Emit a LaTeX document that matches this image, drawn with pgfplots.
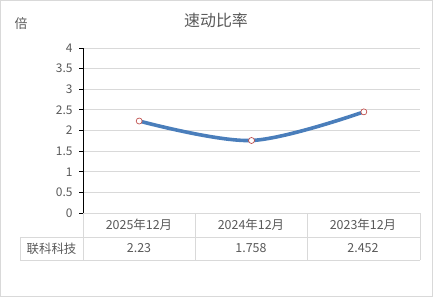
\documentclass[border=0pt]{standalone}
\usepackage{pgfplots}
\pgfplotsset{compat=1.18}
\usepackage{fontspec}
\setmainfont{Noto Sans CJK SC}
\definecolor{gridgray}{HTML}{D9D9D9}
\definecolor{txtgray}{HTML}{595959}
\definecolor{lineblue}{HTML}{4A7EBB}
\definecolor{mkred}{HTML}{C0504D}
\pgfplotstableread{
x y
0 2.23
1 1.758
2 2.452
}\datatable
\begin{document}
\begin{tikzpicture}[x=1bp,y=1bp]
\draw[gridgray, line width=1bp] (0.5,0.5) rectangle (432.5,296.5);
\node[txtgray, font=\fontsize{16}{18}\selectfont] at (216,277) {速动比率};
\node[txtgray, font=\fontsize{13}{15}\selectfont] at (21,273) {倍};
\begin{axis}[
  at={(83bp,84bp)}, anchor=south west,
  scale only axis, width=337bp, height=165bp,
  xmin=-0.5, xmax=2.5, ymin=0, ymax=4,
  ytick={0,0.5,...,4},
  xtick=\empty,
  axis x line=none,
  axis y line=left,
  axis line style={-, black, line width=0.8bp},
  ymajorgrids,
  grid style={gridgray, line width=0.8bp},
  ytick style={black, line width=0.8bp},
  tick align=outside,
  major tick length=4bp,
  clip=false,
  /pgf/number format/assume math mode=true,
  yticklabel style={txtgray, font=\fontsize{12}{14}\selectfont, xshift=-3bp},
]
\addplot[lineblue, line width=3.6bp, smooth, tension=0.55, mark=*, mark size=3bp,
  mark options={fill=white, draw=mkred, line width=0.7bp}] table[x=x,y=y] {\datatable};
\end{axis}
% data table grid
\draw[gridgray, line width=0.8bp] (83,84) -- (420,84);
\draw[gridgray, line width=0.8bp] (20,60) -- (420,60);
\draw[gridgray, line width=0.8bp] (20,37) -- (420,37);
\draw[gridgray, line width=0.8bp] (20,60) -- (20,37);
\foreach \xx in {83,195,307,420} \draw[gridgray, line width=0.8bp] (\xx,84) -- (\xx,37);
\begin{scope}[every node/.style={txtgray, font=\fontsize{12.5}{14}\selectfont}]
\node at (139,72) {2025年12月};
\node at (251,72) {2024年12月};
\node at (363,72) {2023年12月};
\node at (51.5,48.5) {联科科技};
\node at (139,48.5) {2.23};
\node at (251,48.5) {1.758};
\node at (363,48.5) {2.452};
\end{scope}
\end{tikzpicture}
\end{document}
